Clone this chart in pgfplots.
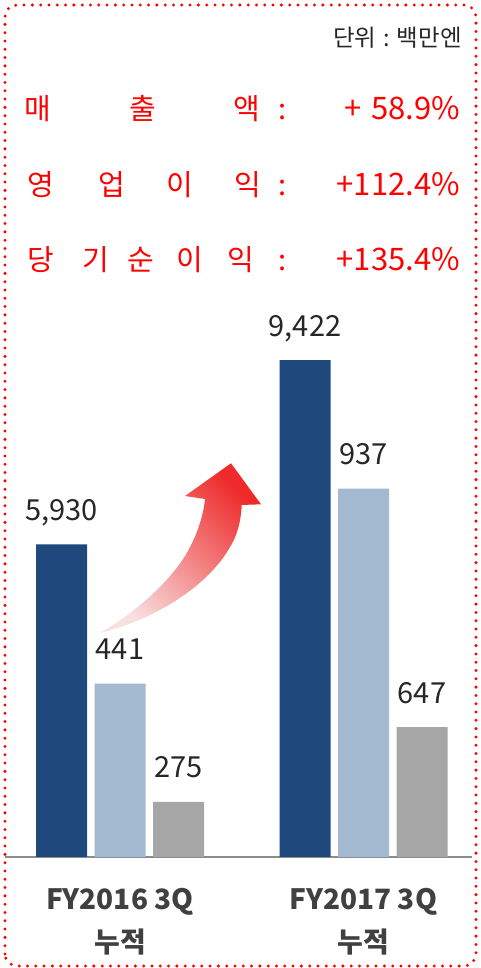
\documentclass[border=0pt]{standalone}
\usepackage{pgfplots}
\pgfplotsset{compat=1.18}
\usepackage{fontspec}
\setmainfont{Noto Sans CJK KR}
\definecolor{darkblue}{HTML}{1F497D}
\definecolor{lightblue}{HTML}{A3B9D0}
\definecolor{midgray}{HTML}{A6A6A6}
\definecolor{txt}{HTML}{262626}
\definecolor{lbl}{HTML}{404040}
\definecolor{basel}{HTML}{8C8C8C}
\definecolor{redt}{HTML}{FF0000}
\definecolor{arrowred}{HTML}{EE2A2A}
\definecolor{arrowpale}{HTML}{F8E0E0}

\pgfplotsset{
  barax/.style={
    at={(5bp,111bp)}, anchor=south west,
    scale only axis, width=467bp, height=557bp,
    xmin=-0.4723, xmax=1.4456, ymin=0,
    xtick=\empty, ytick=\empty,
    ybar, bar width=51bp, clip=false,
    nodes near coords,
    every node near coord/.append style={anchor=base, yshift=24bp,
      font=\fontsize{29bp}{31bp}\selectfont, text=txt},
    /pgf/number format/1000 sep={,},
    /pgf/number format/assume math mode=true,
  }
}
\tikzset{
  redlab/.style={anchor=base, text=redt, inner sep=0pt,
    font=\fontsize{29bp}{32bp}\selectfont},
  redpct/.style={anchor=base east, text=redt, inner sep=0pt,
    font=\fontsize{31bp}{33bp}\selectfont},
}

\begin{document}
\begin{tikzpicture}
\useasboundingbox (0,0) rectangle (481bp,968bp);

% dotted frame
\draw[redt, line width=3.3bp, line cap=round, dash pattern=on 0bp off 8.3bp,
  rounded corners=12bp] (5bp,2bp) rectangle (476bp,963bp);

% unit
\node[anchor=base east, inner sep=0pt, text=txt,
  font=\fontsize{23.5bp}{25bp}\selectfont] at (462bp,921bp) {단위\hspace{0.3em}:\hspace{0.3em}백만엔};

% growth lines
\node[redlab] at (37.5bp,848bp) {매};
\node[redlab] at (143bp,848bp) {출};
\node[redlab] at (247bp,848bp) {액};
\node[redlab] at (283bp,848bp) {:};
\node[redpct] at (460bp,848bp) {+\hspace{0.3em}58.9\%};

\node[redlab] at (41bp,772bp) {영};
\node[redlab] at (112bp,772bp) {업};
\node[redlab] at (180bp,772bp) {이};
\node[redlab] at (248bp,772bp) {익};
\node[redlab] at (283bp,772bp) {:};
\node[redpct] at (460bp,772bp) {+112.4\%};

\node[redlab] at (41bp,697bp) {당};
\node[redlab] at (96bp,697bp) {기};
\node[redlab] at (141bp,697bp) {순};
\node[redlab] at (190bp,697bp) {이};
\node[redlab] at (241bp,697bp) {익};
\node[redlab] at (283bp,697bp) {:};
\node[redpct] at (460bp,697bp) {+135.4\%};

% sales
\begin{axis}[barax, ymax=10563,
  axis x line*=bottom, axis y line=none,
  x axis line style={basel, line width=1.5bp, -}]
\addplot[fill=darkblue, draw=none, bar shift=-58.5bp] coordinates {(0,5930) (1,9422)};
\node[anchor=base, text=lbl, font=\fontsize{28bp}{30bp}\selectfont\bfseries] at (axis cs:0,0) [yshift=-52bp] {FY2016 3Q};
\node[anchor=base, text=lbl, font=\fontsize{28bp}{30bp}\selectfont\bfseries] at (axis cs:0,0) [yshift=-95bp] {누적};
\node[anchor=base, text=lbl, font=\fontsize{28bp}{30bp}\selectfont\bfseries] at (axis cs:1,0) [yshift=-52bp] {FY2017 3Q};
\node[anchor=base, text=lbl, font=\fontsize{28bp}{30bp}\selectfont\bfseries] at (axis cs:1,0) [yshift=-95bp] {누적};
\end{axis}
% operating profit
\begin{axis}[barax, ymax=1416.6, axis lines=none]
\addplot[fill=lightblue, draw=none, bar shift=0bp] coordinates {(0,441) (1,937)};
\end{axis}
% net profit
\begin{axis}[barax, ymax=2774, axis lines=none]
\addplot[fill=midgray, draw=none, bar shift=58.5bp] coordinates {(0,275) (1,647)};
\end{axis}

% curved growth arrow
\shade[top color=arrowred, bottom color=arrowpale, shading angle=-45]
  (100bp,335bp)
  .. controls (135bp,355bp) and (175bp,390bp) .. (190bp,421bp)
  .. controls (200bp,440bp) and (204bp,458bp) .. (205bp,469bp)
  -- (185bp,472bp) -- (231bp,504.7bp) -- (261bp,463.7bp) -- (241.7bp,463bp)
  .. controls (241bp,445bp) and (236bp,430bp) .. (230bp,421bp)
  .. controls (210bp,385bp) and (160bp,350bp) .. (100bp,335bp)
  -- cycle;
\end{tikzpicture}
\end{document}
